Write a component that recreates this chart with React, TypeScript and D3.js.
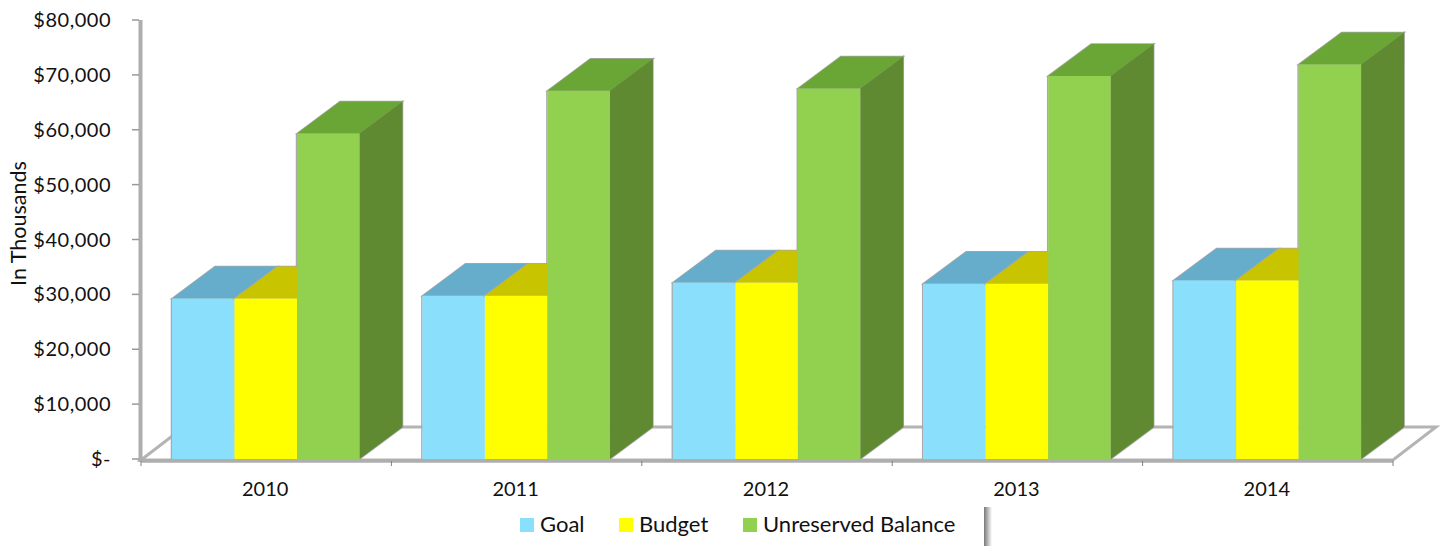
import { useEffect, useRef } from 'react';
import * as d3 from 'd3';

const years = ['2010', '2011', '2012', '2013', '2014'];
const seriesNames = ['Goal', 'Budget', 'Unreserved Balance'];
const goal = [29250, 29750, 32150, 31950, 32550];
const budget = [29250, 29750, 32150, 31950, 32550];
const unreserved = [59300, 67100, 67500, 69800, 71900];
const yTicks = [0, 10000, 20000, 30000, 40000, 50000, 60000, 70000, 80000];

const front = ['#8adffd', '#ffff00', '#92d050'];
const top = ['#66adcb', '#c9c400', '#6aa636'];
const side = ['#66adcb', '#c9c400', '#5e8a30'];
const axisColor = '#aeaeae';
const font = 'Lato, "Open Sans", sans-serif';

export default function App() {
  const svgRef = useRef<SVGSVGElement>(null);

  useEffect(() => {
    if (!svgRef.current) return;
    const svg = d3.select(svgRef.current);
    svg.selectAll('*').remove();

    const height = 546;
    const depth = { x: 43, y: -32 };

    const x0 = d3.scaleBand<string>().domain(years).range([141, 1393]);
    const x1 = d3.scaleBand<string>().domain(seriesNames).range([31, 218.5]);
    const y = d3.scaleLinear().domain([0, 80000]).range([459, 20]);
    const values = [goal, budget, unreserved];

    const defs = svg.append('defs');
    const shadow = defs.append('linearGradient').attr('id', 'legend-shadow');
    shadow.append('stop').attr('offset', '0%').attr('stop-color', '#777777');
    shadow.append('stop').attr('offset', '100%').attr('stop-color', '#ffffff');
    // The source picture is a soft screenshot, edges are not crisp
    defs.append('filter').attr('id', 'soft')
      .append('feGaussianBlur').attr('stdDeviation', 0.6);

    const plot = svg.append('g').attr('filter', 'url(#soft)');

    // Floor of the 3d plot
    const base = y(0);
    const floor = d3.line()([
      [x0.range()[0], base + 1],
      [x0.range()[0] + depth.x, base + depth.y],
      [x0.range()[1] + depth.x, base + depth.y],
      [x0.range()[1], base + 1],
    ]);
    plot.append('path')
      .attr('d', `${floor}Z`)
      .attr('fill', '#ffffff')
      .attr('stroke', '#b4b4b4')
      .attr('stroke-width', 3);

    // Bars
    const poly = (pts: [number, number][]) => `${d3.line()(pts)}Z`;
    years.forEach((year, i) => {
      const g = plot.append('g');
      seriesNames.forEach((name, s) => {
        const left = (x0(year) as number) + (x1(name) as number);
        const w = x1.bandwidth();
        const h = y(values[s][i]);
        const right = left + w;
        const topFace = poly([[left, h], [left + depth.x, h + depth.y], [right + depth.x, h + depth.y], [right, h]]);
        const sideFace = poly([[right, h], [right + depth.x, h + depth.y], [right + depth.x, base + depth.y], [right, base]]);

        // thin grey rim round the visible outline
        g.append('path').attr('d', topFace).attr('fill', 'none')
          .attr('stroke', '#a8a8a8').attr('stroke-width', 1.5);
        if (s === 2) {
          g.append('path').attr('d', sideFace).attr('fill', 'none')
            .attr('stroke', '#a8a8a8').attr('stroke-width', 1.5);
          g.append('line')
            .attr('x1', left - 0.5).attr('x2', left - 0.5)
            .attr('y1', h).attr('y2', y(values[1][i]) + depth.y)
            .attr('stroke', '#a8a8a8').attr('stroke-width', 1.5);
        }
        if (s === 0) {
          g.append('line')
            .attr('x1', left - 0.5).attr('x2', left - 0.5)
            .attr('y1', h).attr('y2', base)
            .attr('stroke', '#a8a8a8').attr('stroke-width', 1.5);
        }
        g.append('path').attr('d', topFace).attr('fill', top[s]);
        g.append('path').attr('d', sideFace).attr('fill', side[s]);
        g.append('rect')
          .attr('x', left)
          .attr('y', h)
          .attr('width', w)
          .attr('height', base - h)
          .attr('fill', front[s]);
      });
    });

    // Axis lines, drawn over the bars' feet
    plot.append('line')
      .attr('x1', x0.range()[0]).attr('x2', x0.range()[1])
      .attr('y1', base + 2).attr('y2', base + 2)
      .attr('stroke', axisColor).attr('stroke-width', 3.5);
    plot.append('line')
      .attr('x1', 140.5).attr('x2', 140.5)
      .attr('y1', y(80000)).attr('y2', base + 3)
      .attr('stroke', axisColor).attr('stroke-width', 4);

    // Ticks
    const yAxis = svg.append('g');
    yAxis.selectAll('line')
      .data(yTicks)
      .join('line')
      .attr('x1', 132).attr('x2', 139)
      .attr('y1', d => y(d)).attr('y2', d => y(d))
      .attr('stroke', '#999999').attr('stroke-width', 1.5);
    yAxis.selectAll('text')
      .data(yTicks)
      .join('text')
      .attr('x', 111)
      .attr('y', d => y(d) + 7)
      .attr('text-anchor', 'end')
      .attr('font-family', font)
      .attr('font-size', 20)
      .attr('letter-spacing', 0.5)
      .attr('fill', '#111111')
      .text(d => (d === 0 ? '$-' : d3.format('$,')(d)));

    const boundaries = [...years.map(d => x0(d) as number), x0.range()[1]];
    svg.append('g').selectAll('line')
      .data(boundaries)
      .join('line')
      .attr('x1', d => d).attr('x2', d => d)
      .attr('y1', base + 2).attr('y2', base + 7)
      .attr('stroke', '#808080').attr('stroke-width', 1);

    svg.append('g').selectAll('text')
      .data(years)
      .join('text')
      .attr('x', d => (x0(d) as number) + x0.bandwidth() / 2 - 1)
      .attr('y', 496)
      .attr('text-anchor', 'middle')
      .attr('font-family', font)
      .attr('font-size', 20)
      .attr('fill', '#111111')
      .text(d => d);

    svg.append('text')
      .attr('transform', 'translate(26,223.5) rotate(-90)')
      .attr('text-anchor', 'middle')
      .attr('font-family', font)
      .attr('font-size', 21.5)
      .attr('fill', '#111111')
      .text('In Thousands');

    // Legend with its cropped shadow
    svg.append('rect')
      .attr('x', 984).attr('y', 507).attr('width', 8).attr('height', height - 507)
      .attr('fill', 'url(#legend-shadow)');
    const legendX = [520, 619, 743];
    const legend = svg.append('g');
    seriesNames.forEach((name, s) => {
      legend.append('rect')
        .attr('x', legendX[s]).attr('y', 518).attr('width', 14).attr('height', 14)
        .attr('fill', front[s]);
      legend.append('text')
        .attr('x', legendX[s] + 20)
        .attr('y', 532)
        .attr('font-family', font)
        .attr('font-size', 22)
        .attr('fill', '#111111')
        .text(name);
    });
  }, []);

  return (
    <svg
      ref={svgRef}
      width={1442}
      height={546}
      style={{ display: 'block', position: 'absolute', left: 0, top: 0, background: '#ffffff' }}
    />
  );
}
